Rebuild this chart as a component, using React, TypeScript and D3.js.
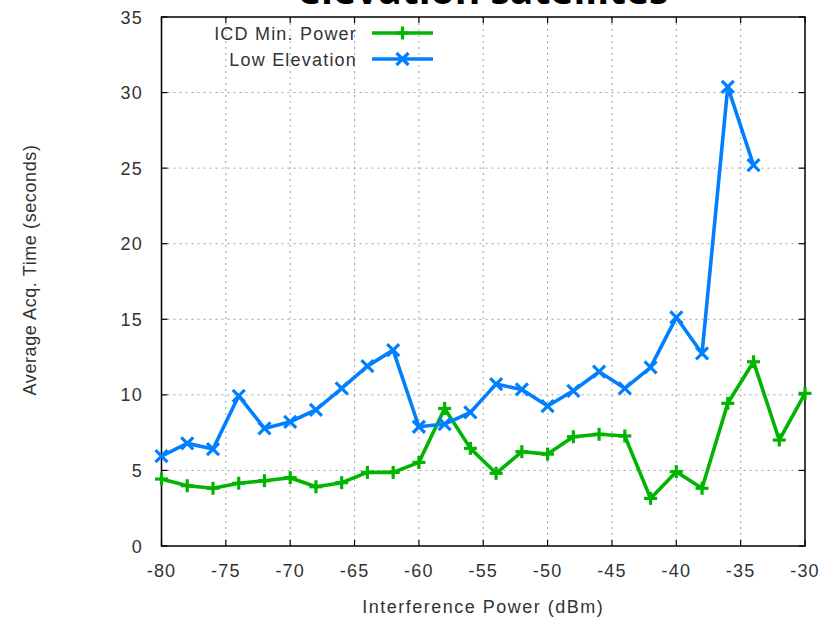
import React from "react";
import * as d3 from "d3";

// Interference power sweep (dBm), one sample every 2 dB
const powerIcd = [-80, -78, -76, -74, -72, -70, -68, -66, -64, -62, -60, -58, -56, -54, -52, -50, -48, -46, -44, -42, -40, -38, -36, -34, -32, -30];
const acqIcd = [4.43, 3.99, 3.82, 4.15, 4.32, 4.52, 3.92, 4.19, 4.87, 4.87, 5.53, 9.1, 6.46, 4.81, 6.24, 6.08, 7.23, 7.39, 7.28, 3.15, 4.92, 3.82, 9.44, 12.19, 7.01, 10.1];

const powerLow = [-80, -78, -76, -74, -72, -70, -68, -66, -64, -62, -60, -58, -56, -54, -52, -50, -48, -46, -44, -42, -40, -38, -36, -34];
const acqLow = [5.95, 6.79, 6.41, 9.94, 7.78, 8.22, 9.0, 10.43, 11.9, 12.96, 7.89, 8.07, 8.84, 10.71, 10.36, 9.26, 10.27, 11.53, 10.43, 11.82, 15.13, 12.74, 30.38, 25.2];

const xTicks = [-80, -75, -70, -65, -60, -55, -50, -45, -40, -35, -30];
const yTicks = [0, 5, 10, 15, 20, 25, 30, 35];

const seriesNames = ["ICD Min. Power", "Low Elevation"];
const titleText = "elevation satellites";
const xLabel = "Interference Power (dBm)";
const yLabel = "Average Acq. Time (seconds)";

const GREEN = "#00b400";
const BLUE = "#0080ff";
const TEXT = "#333333";
const FONT = "'Liberation Sans', Arial, sans-serif";

const W = 833;
const H = 620;
const left = 161.5;
const right = 805;
const top = 17;
const bottom = 546;

const x = d3.scaleLinear().domain([-80, -30]).range([left, right]);
const y = d3.scaleLinear().domain([0, 35]).range([bottom, top]);

type Pt = [number, number];

function plus(cx: number, cy: number, r: number, color: string, key: string) {
  return (
    <g key={key} stroke={color} strokeWidth={3.2}>
      <line x1={cx - r} y1={cy} x2={cx + r} y2={cy} />
      <line x1={cx} y1={cy - r} x2={cx} y2={cy + r} />
    </g>
  );
}

function cross(cx: number, cy: number, r: number, color: string, key: string) {
  return (
    <g key={key} stroke={color} strokeWidth={3.2}>
      <line x1={cx - r} y1={cy - r} x2={cx + r} y2={cy + r} />
      <line x1={cx - r} y1={cy + r} x2={cx + r} y2={cy - r} />
    </g>
  );
}

export default function App() {
  const line = d3
    .line<Pt>()
    .x((d) => x(d[0]))
    .y((d) => y(d[1]));

  const icdPts: Pt[] = powerIcd.map((p, i) => [p, acqIcd[i]]);
  const lowPts: Pt[] = powerLow.map((p, i) => [p, acqLow[i]]);

  const tickLen = 6;
  const legendX0 = 372;
  const legendX1 = 433;
  const legendY = [33, 59];

  return (
    <svg width={W} height={H} style={{ display: "block", position: "absolute", left: 0, top: 0 }}>
      <rect width={W} height={H} fill="#ffffff" />

      {/* title, top line mostly above the canvas */}
      <text
        x={(left + right) / 2}
        y={4}
        textAnchor="middle"
        fontFamily="'Open Sans', 'DejaVu Sans', sans-serif"
        fontWeight="bold"
        fontSize={39}
        fill="#000"
      >
        {titleText}
      </text>

      {/* grid */}
      <g stroke="#a0a0a0" strokeWidth={1} strokeDasharray="2,4">
        {xTicks.slice(1, -1).map((t) => (
          <line key={"gx" + t} x1={x(t)} x2={x(t)} y1={top} y2={bottom} />
        ))}
        {yTicks.slice(1, -1).map((t) => (
          <line key={"gy" + t} x1={left} x2={right} y1={y(t)} y2={y(t)} />
        ))}
      </g>

      {/* ticks, mirrored on all sides */}
      <g stroke="#000" strokeWidth={1.2}>
        {xTicks.map((t) => (
          <g key={"tx" + t}>
            <line x1={x(t)} x2={x(t)} y1={bottom} y2={bottom - tickLen} />
            <line x1={x(t)} x2={x(t)} y1={top} y2={top + tickLen} />
          </g>
        ))}
        {yTicks.map((t) => (
          <g key={"ty" + t}>
            <line x1={left} x2={left + tickLen} y1={y(t)} y2={y(t)} />
            <line x1={right} x2={right - tickLen} y1={y(t)} y2={y(t)} />
          </g>
        ))}
      </g>

      <rect x={left} y={top} width={right - left} height={bottom - top} fill="none" stroke="#000" strokeWidth={1.5} />

      {/* tick labels */}
      <g fontFamily={FONT} fontSize={18} fill={TEXT} letterSpacing={1.2}>
        {xTicks.map((t) => (
          <text key={"lx" + t} x={x(t)} y={577} textAnchor="middle">
            {t}
          </text>
        ))}
        {yTicks.map((t) => (
          <text key={"ly" + t} x={143} y={y(t) + 6.5} textAnchor="end">
            {t}
          </text>
        ))}
      </g>

      {/* axis titles */}
      <text x={(left + right) / 2} y={613} textAnchor="middle" fontFamily={FONT} fontSize={18} fill={TEXT} letterSpacing={1.5}>
        {xLabel}
      </text>
      <text
        transform={`translate(36, 270) rotate(-90)`}
        textAnchor="middle"
        fontFamily={FONT}
        fontSize={18}
        fill={TEXT}
        letterSpacing={0.6}
      >
        {yLabel}
      </text>

      {/* series */}
      <path d={line(icdPts) || ""} fill="none" stroke={GREEN} strokeWidth={3.6} strokeLinejoin="round" />
      {icdPts.map((d, i) => plus(x(d[0]), y(d[1]), 6.5, GREEN, "pi" + i))}
      <path d={line(lowPts) || ""} fill="none" stroke={BLUE} strokeWidth={3.6} strokeLinejoin="round" />
      {lowPts.map((d, i) => cross(x(d[0]), y(d[1]), 6, BLUE, "pl" + i))}

      {/* legend */}
      <g fontFamily={FONT} fontSize={18} fill={TEXT} letterSpacing={1.2}>
        <text x={357} y={legendY[0] + 6.5} textAnchor="end">
          {seriesNames[0]}
        </text>
        <text x={357} y={legendY[1] + 6.5} textAnchor="end">
          {seriesNames[1]}
        </text>
      </g>
      <line x1={legendX0} x2={legendX1} y1={legendY[0]} y2={legendY[0]} stroke={GREEN} strokeWidth={3.6} />
      {plus((legendX0 + legendX1) / 2, legendY[0], 6.5, GREEN, "lg0")}
      <line x1={legendX0} x2={legendX1} y1={legendY[1]} y2={legendY[1]} stroke={BLUE} strokeWidth={3.6} />
      {cross((legendX0 + legendX1) / 2, legendY[1], 6, BLUE, "lg1")}
    </svg>
  );
}
